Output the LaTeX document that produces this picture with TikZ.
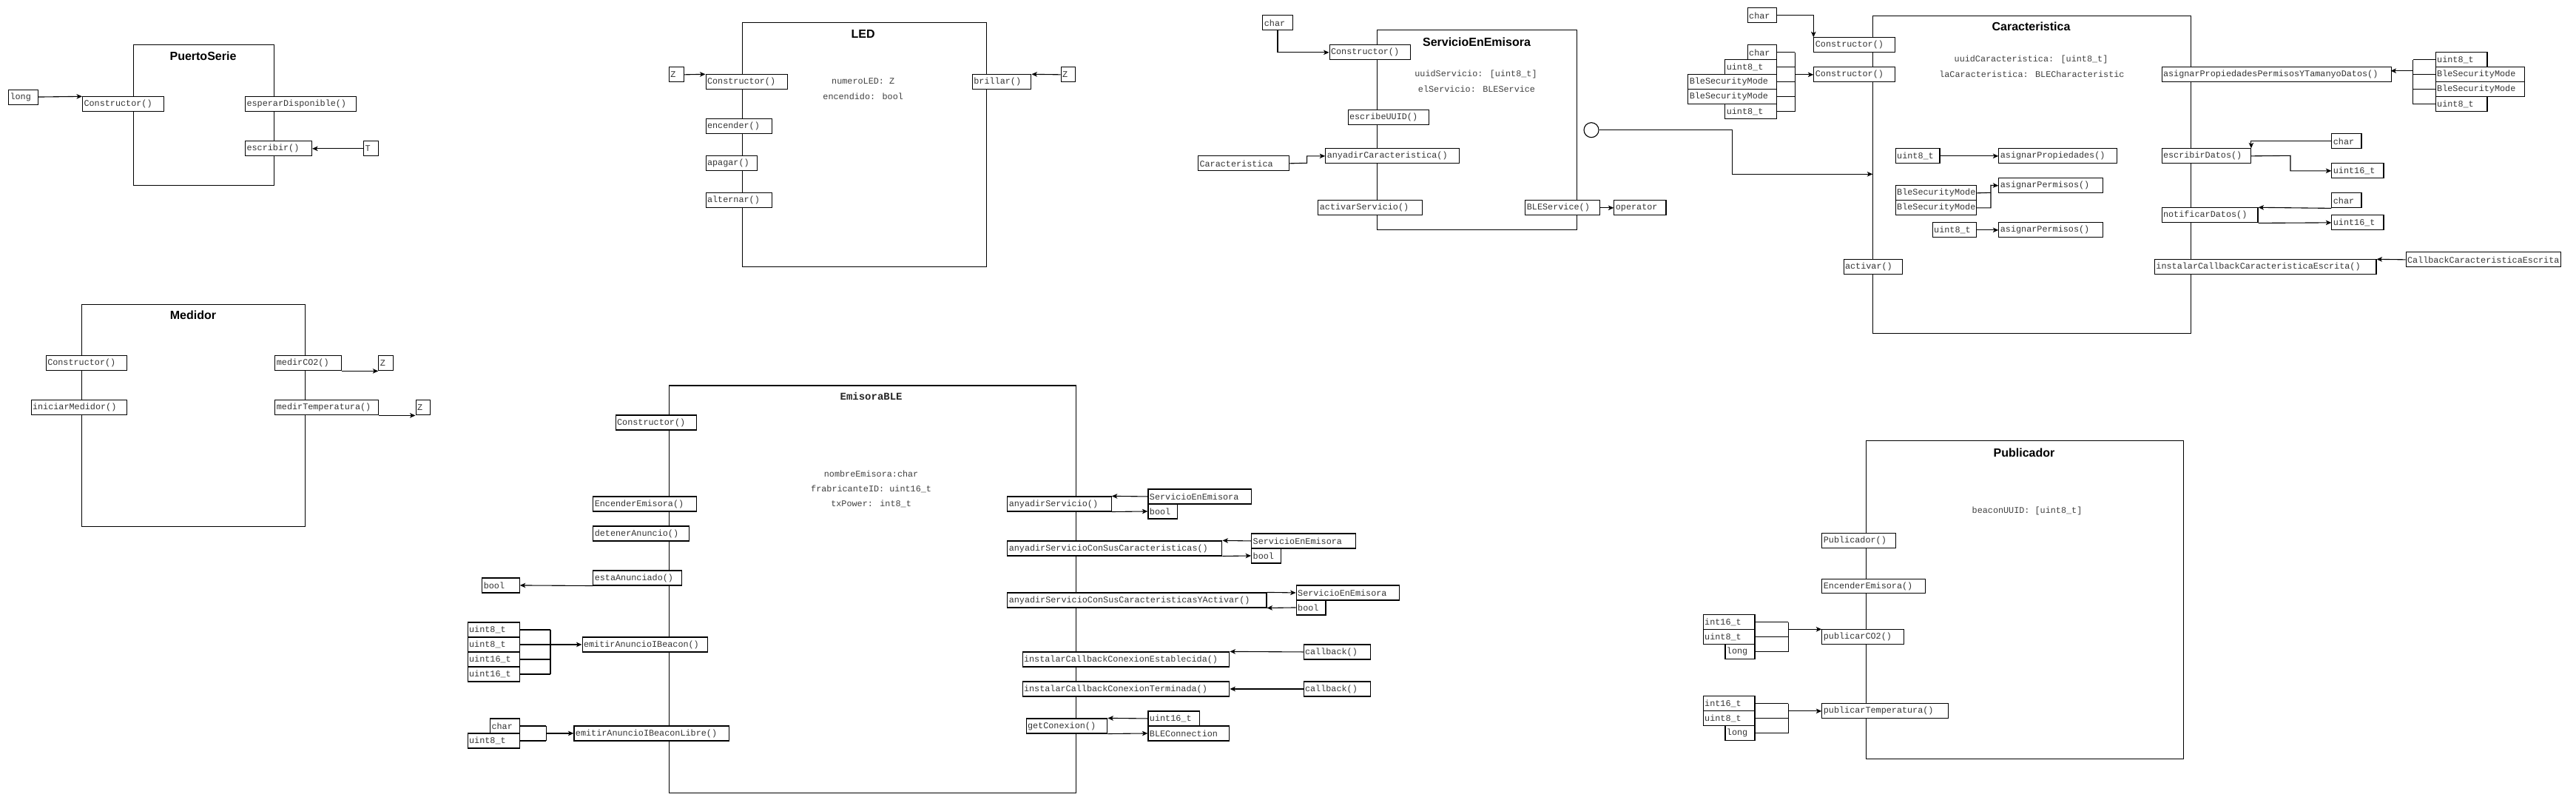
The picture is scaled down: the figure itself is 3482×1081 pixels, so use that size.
\documentclass[tikz,border=0pt]{standalone}
\usepackage{fontspec}
\newfontfamily\monof{Liberation Mono}
\newfontfamily\sansf{Liberation Sans}
\usetikzlibrary{arrows.meta}
\newcommand\mfont{\monof\fontsize{11.8}{14}\selectfont}
\newcommand\tfont{\sansf\bfseries\fontsize{16}{19}\selectfont}
\newcommand\mbx[6]{%
  \pgfmathsetmacro\bw{#4-#2}%
  \pgfmathsetmacro\bh{#5-#3}%
  \node[mbox, minimum width=\bw pt, minimum height=\bh pt] (#1) at (#2,#3) {\makebox[\bw pt][l]{\hspace{2pt}#6}};%
}
\newcommand\cbx[5]{%
  \pgfmathsetmacro\bw{#4-#2}%
  \pgfmathsetmacro\bh{#5-#3}%
  \node[cls, minimum width=\bw pt, minimum height=\bh pt] (#1) at (#2,#3) {};%
}
\tikzset{
  cls/.style={draw=black, line width=1.1pt, inner sep=0pt, anchor=north west},
  mbox/.style={draw=black, fill=white, line width=1.1pt, inner sep=0pt, anchor=north west, font=\mfont, text=black!80},
  arr/.style={line width=1.1pt, -{Stealth[length=7.5pt,width=6.5pt,inset=2pt]}},
  ln/.style={line width=1.1pt},
  ttl/.style={font=\tfont, inner sep=0pt},
  attr/.style={font=\mfont, inner sep=0pt, text=black!75},
}
\begin{document}
\begin{tikzpicture}[x=1pt,y=-1pt]
\fill[white] (0,0) rectangle (3482,1081);
\useasboundingbox (0,0) rectangle (3482,1081);

% ---------------- PuertoSerie ----------------
\cbx{ps}{180}{60}{370}{250}
\node[ttl] (psT0) at (274.5,76) {PuertoSerie};
\mbx{psLong}{11}{120.5}{51}{140.5}{long}
\mbx{psCons}{111}{130.3}{221}{150.3}{Constructor()}
\mbx{psEsp}{331}{130.3}{481}{150.3}{esperarDisponible()}
\mbx{psEsc}{331}{190.3}{421}{210.3}{escribir()}
\mbx{psT}{491}{190.3}{511}{210.3}{T}
\draw[arr] (psLong.east) -- (psCons.north west);
\draw[arr] (psT.west) -- (psEsc.east);

% ---------------- LED ----------------
\cbx{led}{1002.6}{30.3}{1332.7}{360}
\node[ttl] (ledT0) at (1166.7,46) {LED};
\mbx{ledZa}{903.7}{90.3}{923.5}{110.3}{Z}
\mbx{ledCons}{953.5}{100.3}{1063.5}{120.3}{Constructor()}
\mbx{ledEnc}{953.5}{160.3}{1043.3}{180.3}{encender()}
\mbx{ledApa}{953.5}{210.3}{1023.1}{230.3}{apagar()}
\mbx{ledAlt}{953.5}{260.3}{1043.3}{280.3}{alternar()}
\node[attr] (leda1) at (1166.7,110) {numeroLED: Z};
\node[attr] (leda2) at (1166.7,130) {encendido: bool};
\mbx{ledBri}{1313.8}{100.3}{1393.3}{120.3}{brillar()}
\mbx{ledZb}{1433.6}{90.3}{1453.3}{110.3}{Z}
\draw[arr] (ledZa.east) -- (ledCons.north west);
\draw[arr] (ledZb.west) -- (ledBri.north east);

% ---------------- ServicioEnEmisora ----------------
\cbx{se}{1861.3}{40.3}{2131.3}{310.3}
\node[ttl] (seT0) at (1996,56.7) {ServicioEnEmisora};
\mbx{seChar}{1706.3}{20.3}{1746.5}{40.3}{char}
\mbx{seCons}{1796.5}{60.3}{1906.3}{80.3}{Constructor()}
\node[attr] (sea1) at (1995,100) {uuidServicio: [uint8\_t]};
\node[attr] (sea2) at (1996,120) {elServicio: BLEService};
\mbx{seUUID}{1821.5}{147.7}{1931.3}{168.3}{escribeUUID()}
\mbx{seCarBox}{1619}{210.3}{1741.6}{230.3}{Caracteristica}
\mbx{seAny}{1791.2}{200.3}{1971.5}{220.3}{anyadirCaracteristica()}
\mbx{seAct}{1781.3}{270.3}{1921.5}{290.3}{activarServicio()}
\mbx{seBLE}{2061.3}{270.3}{2161.7}{290.3}{BLEService()}
\mbx{seOp}{2181.3}{270.3}{2251.4}{290.3}{operator}
\draw[arr] (seChar.south) |- (seCons.west);
\draw[arr] (seCarBox.east) -- (1766.6,220.3) |- (seAny.west);
\draw[arr] (seBLE.east) -- (seOp.west);
\node[draw, circle, line width=1.1pt, minimum size=20pt, inner sep=0pt] (lol) at (2151,175.7) {};
\coordinate (carIn) at (2531.3,235.3);
\draw[arr] (lol.east) -- (2341.5,175.7) |- (carIn);

% ---------------- Caracteristica ----------------
\cbx{ca}{2531.3}{20.7}{2960.5}{450}
\node[ttl] (caT0) at (2745.5,36) {Caracteristica};
\mbx{caChar}{2361.6}{10.3}{2401.3}{30.3}{char}
\mbx{caCons1}{2451.3}{50.3}{2561.2}{70.3}{Constructor()}
\draw[arr] (caChar.east) -| (caCons1.north west);
\mbx{caP1}{2361.6}{60.3}{2401.3}{80.3}{char}
\mbx{caP2}{2331.25}{80.3}{2401.3}{100.3}{uint8\_t}
\mbx{caP3}{2281.25}{100.3}{2401.3}{120.3}{BleSecurityMode}
\mbx{caP4}{2281.25}{120.3}{2401.3}{140.3}{BleSecurityMode}
\mbx{caP5}{2331.25}{140.3}{2401.3}{160.3}{uint8\_t}
\mbx{caCons2}{2451.3}{90.3}{2561.2}{110.3}{Constructor()}
\coordinate (caBar) at (2426.3,0);
\foreach \n in {caP1,caP2,caP3,caP4,caP5} {\draw[ln] (\n.east) -- (\n.east -| caBar);}
\draw[ln] (caP1.east -| caBar) -- (caP5.east -| caBar);
\draw[arr] (caCons2.west -| caBar) -- (caCons2.west);
\node[attr] (caa1) at (2745.5,80.3) {uuidCaracteristica: [uint8\_t]};
\node[attr] (caa2) at (2746.4,100.3) {laCaracteristica: BLECharacteristic};
\mbx{caU1}{2561.6}{200.3}{2621.4}{220.3}{uint8\_t}
\mbx{caAP}{2701.3}{200.3}{2861.2}{220.3}{asignarPropiedades()}
\draw[arr] (caU1.east) -- (caAP.west);
\mbx{caB1}{2561.6}{250.3}{2671}{270.3}{BleSecurityMode}
\mbx{caB2}{2561.6}{270.3}{2671}{290.3}{BleSecurityMode}
\mbx{caPerm1}{2701.3}{240.3}{2841.5}{260.3}{asignarPermisos()}
\draw[ln] (caB1.east) -- (2691,260.3);
\draw[arr] (caB2.east) -| (2691,250.3) -- (caPerm1.west);
\mbx{caU2}{2611.6}{300.3}{2671}{320.3}{uint8\_t}
\mbx{caPerm2}{2701.3}{300.3}{2841.5}{320.3}{asignarPermisos()}
\draw[arr] (caU2.east) -- (caPerm2.west);
\mbx{caAct}{2491.5}{350.3}{2571}{370.3}{activar()}
% right side
\mbx{caAPP}{2921.5}{90.3}{3231.5}{110.3}{asignarPropiedadesPermisosYTamanyoDatos()}
\mbx{caR1}{3291.6}{70.3}{3361.4}{90.3}{uint8\_t}
\mbx{caR2}{3291.6}{90.3}{3411.5}{110.3}{BleSecurityMode}
\mbx{caR3}{3291.6}{110.3}{3411.5}{130.3}{BleSecurityMode}
\mbx{caR4}{3291.6}{130.3}{3361.4}{150.3}{uint8\_t}
\coordinate (caRBar) at (3261.9,0);
\foreach \n in {caR1,caR2,caR3,caR4} {\draw[ln] (\n.west) -- (\n.west -| caRBar);}
\draw[ln] (caR1.west -| caRBar) -- (caR4.west -| caRBar);
\draw[arr] (3261.9,95.7) -- (3231.5,95.7);
\mbx{caChar2}{3151.3}{180.3}{3191.4}{200.3}{char}
\mbx{caED}{2921.5}{200.3}{3041.8}{220.3}{escribirDatos()}
\draw[arr] (caChar2.west) -| (caED.north east);
\mbx{caU16a}{3151.3}{220.3}{3221.4}{240.3}{uint16\_t}
\draw[arr] (caED.east) -- (3096,210.3) |- (caU16a.west);
\mbx{caChar3}{3151.3}{260.3}{3191.4}{280.3}{char}
\mbx{caND}{2921.5}{280.3}{3051.4}{300.3}{notificarDatos()}
\draw[arr] (caChar3.south west) -- (caND.north east);
\mbx{caU16b}{3151.3}{290.3}{3221.4}{310.3}{uint16\_t}
\draw[arr] (caND.south east) -- (caU16b.west);
\mbx{caCB}{3251.5}{340.3}{3461.2}{360.3}{CallbackCaracteristicaEscrita}
\mbx{caICE}{2911.9}{350.3}{3211.4}{370.3}{instalarCallbackCaracteristicaEscrita()}
\draw[arr] (caCB.west) -- (caICE.north east);

% ---------------- Medidor ----------------
\cbx{me}{110.3}{410.7}{411.6}{711}
\node[ttl] (meT0) at (261,426) {Medidor};
\mbx{meCons}{61.7}{480.3}{171.2}{500.3}{Constructor()}
\mbx{meIni}{41.5}{540.3}{171.2}{560.3}{iniciarMedidor()}
\mbx{meCO2}{371.3}{480.3}{461}{500.3}{medirCO2()}
\mbx{meZ1}{511.3}{480.3}{531}{500.3}{Z}
\mbx{meTemp}{371.3}{540.3}{511.3}{560.3}{medirTemperatura()}
\mbx{meZ2}{561.5}{540.3}{581.3}{560.3}{Z}
\draw[arr] (meCO2.south east) -- (meZ1.south west);
\draw[arr] (meTemp.south east) -- (meZ2.south west);

% ---------------- EmisoraBLE ----------------
\cbx{em}{903.5}{520.4}{1453.5}{1071}
\node[font=\monof\bfseries\fontsize{14}{16}\selectfont, inner sep=0pt, text=black!85] (emT0) at (1177.6,535) {EmisoraBLE};
\mbx{emCons}{831.6}{560.4}{941}{580.4}{Constructor()}
\node[attr] (ema1) at (1177.6,640.4) {nombreEmisora:char};
\node[attr] (ema2) at (1177.6,660.4) {frabricanteID: uint16\_t};
\node[attr] (ema3) at (1177.6,680.4) {txPower: int8\_t};
\mbx{emEnc}{801.25}{670.4}{941}{690.4}{EncenderEmisora()}
\mbx{emDet}{801.25}{710.4}{931.2}{730.4}{detenerAnuncio()}
\mbx{emEsta}{801.25}{770.4}{921.3}{790.4}{estaAnunciado()}
\mbx{emBool}{651.25}{780.4}{701.7}{800.4}{bool}
\draw[arr] (emEsta.south west) -- (emBool.east);
\mbx{emA1}{631.6}{840.4}{701.7}{860.4}{uint8\_t}
\mbx{emA2}{631.6}{860.4}{701.7}{880.4}{uint8\_t}
\mbx{emA3}{631.6}{880.4}{701.7}{900.4}{uint16\_t}
\mbx{emA4}{631.6}{900.4}{701.7}{920.4}{uint16\_t}
\mbx{emIB}{786.5}{860.4}{956.2}{880.4}{emitirAnuncioIBeacon()}
\coordinate (emBar) at (744,0);
\foreach \n in {emA1,emA2,emA3,emA4} {\draw[ln] (\n.east) -- (\n.east -| emBar);}
\draw[ln] (emA1.east -| emBar) -- (emA4.east -| emBar);
\draw[arr] (emIB.west -| emBar) -- (emIB.west);
\mbx{emC}{662}{970.4}{701.7}{990.4}{char}
\mbx{emU}{631.6}{990.4}{701.7}{1010.4}{uint8\_t}
\mbx{emIBL}{775.4}{980.4}{985.2}{1000.4}{emitirAnuncioIBeaconLibre()}
\coordinate (emBar2) at (738.3,0);
\foreach \n in {emC,emU} {\draw[ln] (\n.east) -- (\n.east -| emBar2);}
\draw[ln] (emC.east -| emBar2) -- (emU.east -| emBar2);
\draw[arr] (emIBL.west -| emBar2) -- (emIBL.west);
% right side
\mbx{emAS}{1361.2}{670.4}{1501.7}{690.4}{anyadirServicio()}
\mbx{emS1}{1551.4}{660.4}{1691.1}{680.4}{ServicioEnEmisora}
\mbx{emB1}{1551.4}{680.4}{1591.2}{700.4}{bool}
\draw[arr] (emS1.west) -- (emAS.north east);
\draw[arr] (emAS.south east) -- (emB1.west);
\mbx{emASC}{1361.2}{730.4}{1651.3}{750.4}{anyadirServicioConSusCaracteristicas()}
\mbx{emS2}{1691.1}{720.4}{1831.6}{740.4}{ServicioEnEmisora}
\mbx{emB2}{1691.1}{740.4}{1731.3}{760.4}{bool}
\draw[arr] (emS2.west) -- (emASC.north east);
\draw[arr] (emASC.south east) -- (emB2.west);
\mbx{emASCA}{1361.2}{800.4}{1711.4}{820.4}{anyadirServicioConSusCaracteristicasYActivar()}
\mbx{emS3}{1751.6}{790.4}{1891.3}{810.4}{ServicioEnEmisora}
\mbx{emB3}{1751.6}{810.4}{1791.4}{830.4}{bool}
\draw[arr] (emASCA.north east) -- (emS3.west);
\draw[arr] (emB3.west) -- (emASCA.south east);
\mbx{emICE}{1381.5}{880.4}{1661.3}{900.4}{instalarCallbackConexionEstablecida()}
\mbx{emCb1}{1761.5}{870.4}{1851.5}{890.4}{callback()}
\draw[arr] (emCb1.west) -- (emICE.north east);
\mbx{emICT}{1381.5}{920.4}{1661.3}{940.4}{instalarCallbackConexionTerminada()}
\mbx{emCb2}{1761.5}{920.4}{1851.5}{940.4}{callback()}
\draw[arr] (emCb2.west) -- (emICT.east);
\mbx{emGC}{1386.5}{970.4}{1496.3}{990.4}{getConexion()}
\mbx{emU16}{1551.4}{960.4}{1621.1}{980.4}{uint16\_t}
\mbx{emBC}{1551.4}{980.4}{1661.3}{1000.4}{BLEConnection}
\draw[arr] (emU16.west) -- (emGC.north east);
\draw[arr] (emGC.south east) -- (emBC.west);

% ---------------- Publicador ----------------
\cbx{pu}{2521.5}{595.3}{2951.3}{1025}
\node[ttl] (puT0) at (2736,611.3) {Publicador};
\node[attr] (pua1) at (2740,690.3) {beaconUUID: [uint8\_t]};
\mbx{puPub}{2462.3}{720.3}{2561.9}{740.3}{Publicador()}
\mbx{puEnc}{2462.3}{781.7}{2602.3}{801.3}{EncenderEmisora()}
\mbx{puA1}{2301.6}{830.3}{2371.4}{850.3}{int16\_t}
\mbx{puA2}{2301.6}{850.3}{2371.4}{870.3}{uint8\_t}
\mbx{puA3}{2331.4}{870.3}{2371.4}{890.3}{long}
\mbx{puCO2}{2462.3}{850.3}{2572.5}{870.3}{publicarCO2()}
\coordinate (puBar) at (2417.3,0);
\foreach \n in {puA1,puA2,puA3} {\draw[ln] (\n.east) -- (\n.east -| puBar);}
\draw[ln] (puA1.east -| puBar) -- (puA3.east -| puBar);
\draw[arr] (puCO2.north west -| puBar) -- (puCO2.north west);
\mbx{puB1}{2301.6}{940.3}{2371.4}{960.3}{int16\_t}
\mbx{puB2}{2301.6}{960.3}{2371.4}{980.3}{uint8\_t}
\mbx{puB3}{2331.4}{980.3}{2371.4}{1000.3}{long}
\mbx{puTemp}{2462.3}{950.3}{2632.6}{970.3}{publicarTemperatura()}
\foreach \n in {puB1,puB2,puB3} {\draw[ln] (\n.east) -- (\n.east -| puBar);}
\draw[ln] (puB1.east -| puBar) -- (puB3.east -| puBar);
\draw[arr] (puTemp.west -| puBar) -- (puTemp.west);
\end{tikzpicture}
\end{document}
